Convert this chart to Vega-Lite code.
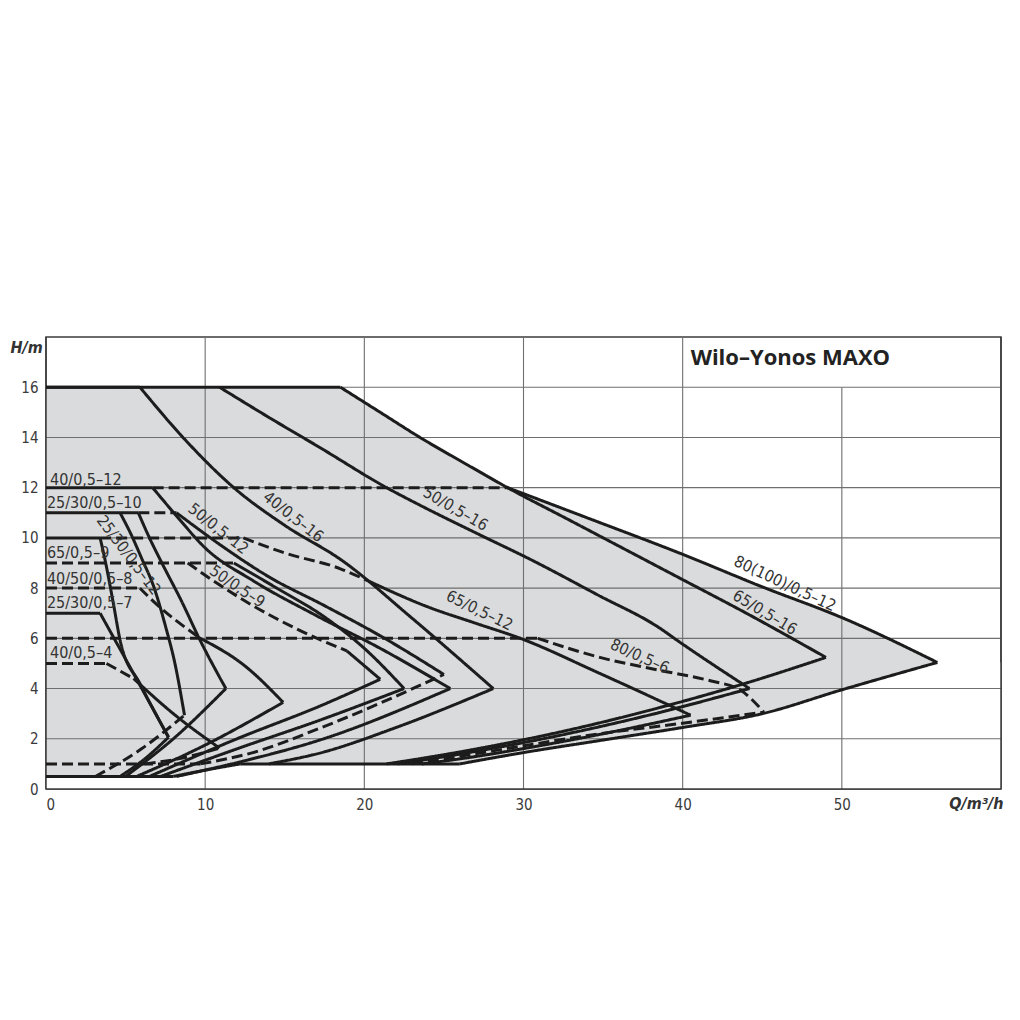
{
  "$schema": "https://vega.github.io/schema/vega-lite/v6.json",
  "width": 955,
  "height": 452,
  "autosize": {"type": "none"},
  "padding": {"left": 46, "top": 337, "right": 19, "bottom": 231},
  "background": "white",
  "config": {
    "view": {"stroke": "#3d3d3d", "strokeWidth": 1.5},
    "axis": {
      "labelFont": "DejaVu Sans Condensed",
      "labelFontSize": 15,
      "labelColor": "#3a3a3a",
      "titleFont": "DejaVu Sans Condensed",
      "titleColor": "#333333",
      "titleFontSize": 16,
      "titleFontWeight": "bold",
      "titleFontStyle": "italic",
      "grid": false,
      "domain": false,
      "ticks": false,
      "tickSize": 0,
      "labelPadding": 8
    },
    "axisX": {
      "tickCount": 6,
      "labelExpr": "datum.value >= 60 ? '' : datum.label",
      "titleX": 957, "titleY": 19,
      "titleAlign": "right", "titleBaseline": "alphabetic"
    },
    "axisY": {
      "tickCount": 9,
      "labelExpr": "datum.value >= 18 ? '' : datum.label",
      "titleAngle": 0,
      "titleX": -36, "titleY": 15,
      "titleAlign": "left", "titleBaseline": "alphabetic"
    }
  },
  "datasets": {
    "envTop": [
      {"x": 0, "y": 16},
      {"x": 18.5, "y": 16},
      {"x": 21, "y": 15},
      {"x": 23.5, "y": 14},
      {"x": 26.5, "y": 12.9},
      {"x": 29, "y": 12},
      {"x": 34, "y": 10.8},
      {"x": 39.9, "y": 9.37},
      {"x": 45, "y": 8.05},
      {"x": 50.1, "y": 6.8},
      {"x": 56, "y": 5.04}
    ],
    "envBot": [
      {"x": 0, "y": 0.5},
      {"x": 8, "y": 0.5},
      {"x": 10, "y": 0.75},
      {"x": 12.2, "y": 1},
      {"x": 26, "y": 1},
      {"x": 30, "y": 1.45},
      {"x": 35, "y": 1.95},
      {"x": 40, "y": 2.45},
      {"x": 45, "y": 3},
      {"x": 50, "y": 3.95},
      {"x": 56, "y": 5.04},
      {"x": 60, "y": 5.04}
    ],
    "vgrid": [
      {"x": 10, "ya": 0, "yb": 18},
      {"x": 20, "ya": 0, "yb": 18},
      {"x": 30, "ya": 0, "yb": 18},
      {"x": 40, "ya": 0, "yb": 18},
      {"x": 50, "ya": 0, "yb": 16}
    ],
    "hgrid": [
      {"y": 2, "xa": 0, "xb": 60},
      {"y": 4, "xa": 0, "xb": 60},
      {"y": 6, "xa": 0, "xb": 60},
      {"y": 8, "xa": 0, "xb": 60},
      {"y": 10, "xa": 0, "xb": 60},
      {"y": 12, "xa": 0, "xb": 60},
      {"y": 14, "xa": 0, "xb": 60},
      {"y": 16, "xa": 0, "xb": 60}
    ],
    "hframe": [
      {"y": 0, "xa": 0, "xb": 60}
    ],
    "vframe": [
      {"x": 0, "ya": 0, "yb": 18},
      {"x": 60, "ya": 0, "yb": 18}
    ],
    "lines": [
      {"s": "s1h", "d": "solid", "x": 0, "y": 16},
      {"s": "s1h", "d": "solid", "x": 5.9, "y": 16},
      {"s": "s1c", "d": "solid", "x": 5.9, "y": 16},
      {"s": "s1c", "d": "solid", "x": 8.9, "y": 13.8},
      {"s": "s1c", "d": "solid", "x": 11.8, "y": 12},
      {"s": "s1c", "d": "solid", "x": 15, "y": 10.5},
      {"s": "s1c", "d": "solid", "x": 18.6, "y": 9.1},
      {"s": "s1c", "d": "solid", "x": 23, "y": 6.8},
      {"s": "s1c", "d": "solid", "x": 28.1, "y": 4},
      {"s": "s1r", "d": "solid", "x": 14, "y": 1},
      {"s": "s1r", "d": "solid", "x": 17.2, "y": 1.43},
      {"s": "s1r", "d": "solid", "x": 22, "y": 2.45},
      {"s": "s1r", "d": "solid", "x": 28.1, "y": 4},

      {"s": "s2c", "d": "solid", "x": 10.9, "y": 16},
      {"s": "s2c", "d": "solid", "x": 14, "y": 14.8},
      {"s": "s2c", "d": "solid", "x": 17.2, "y": 13.6},
      {"s": "s2c", "d": "solid", "x": 21.4, "y": 12},
      {"s": "s2c", "d": "solid", "x": 23.5, "y": 11.3},
      {"s": "s2c", "d": "solid", "x": 27, "y": 10.2},
      {"s": "s2c", "d": "solid", "x": 30.6, "y": 9.09},
      {"s": "s2c", "d": "solid", "x": 34.6, "y": 7.75},
      {"s": "s2c", "d": "solid", "x": 38.6, "y": 6.39},
      {"s": "s2c", "d": "solid", "x": 39.7, "y": 5.9},
      {"s": "s2c", "d": "solid", "x": 44.2, "y": 4},
      {"s": "s2r", "d": "solid", "x": 22.1, "y": 1},
      {"s": "s2r", "d": "solid", "x": 26, "y": 1.39},
      {"s": "s2r", "d": "solid", "x": 32, "y": 2.1},
      {"s": "s2r", "d": "solid", "x": 38, "y": 2.96},
      {"s": "s2r", "d": "solid", "x": 44.2, "y": 4},

      {"s": "s3h", "d": "solid", "x": 0, "y": 16},
      {"s": "s3h", "d": "solid", "x": 18.5, "y": 16},
      {"s": "s3c", "d": "solid", "x": 18.5, "y": 16},
      {"s": "s3c", "d": "solid", "x": 21, "y": 15},
      {"s": "s3c", "d": "solid", "x": 23.5, "y": 14},
      {"s": "s3c", "d": "solid", "x": 26.5, "y": 12.9},
      {"s": "s3c", "d": "solid", "x": 29, "y": 12},
      {"s": "s3c", "d": "solid", "x": 33, "y": 10.67},
      {"s": "s3c", "d": "solid", "x": 36, "y": 9.67},
      {"s": "s3c", "d": "solid", "x": 39.9, "y": 8.37},
      {"s": "s3c", "d": "solid", "x": 44, "y": 7},
      {"s": "s3c", "d": "solid", "x": 49, "y": 5.24},
      {"s": "s3r", "d": "solid", "x": 21.4, "y": 1},
      {"s": "s3r", "d": "solid", "x": 24, "y": 1.26},
      {"s": "s3r", "d": "solid", "x": 28, "y": 1.71},
      {"s": "s3r", "d": "solid", "x": 33, "y": 2.37},
      {"s": "s3r", "d": "solid", "x": 38.6, "y": 3.25},
      {"s": "s3r", "d": "solid", "x": 44, "y": 4.22},
      {"s": "s3r", "d": "solid", "x": 49, "y": 5.24},

      {"s": "s4", "d": "dash", "x": 6.7, "y": 12},
      {"s": "s4", "d": "dash", "x": 29, "y": 12},

      {"s": "s5c", "d": "solid", "x": 29, "y": 12},
      {"s": "s5c", "d": "solid", "x": 34, "y": 10.8},
      {"s": "s5c", "d": "solid", "x": 39.9, "y": 9.37},
      {"s": "s5c", "d": "solid", "x": 45, "y": 8.05},
      {"s": "s5c", "d": "solid", "x": 50.1, "y": 6.8},
      {"s": "s5c", "d": "solid", "x": 56, "y": 5.04},
      {"s": "s5r", "d": "solid", "x": 26, "y": 1},
      {"s": "s5r", "d": "solid", "x": 30, "y": 1.45},
      {"s": "s5r", "d": "solid", "x": 35, "y": 1.95},
      {"s": "s5r", "d": "solid", "x": 40, "y": 2.45},
      {"s": "s5r", "d": "solid", "x": 45, "y": 3},
      {"s": "s5r", "d": "solid", "x": 50, "y": 3.95},
      {"s": "s5r", "d": "solid", "x": 56, "y": 5.04},

      {"s": "s6h", "d": "dash", "x": 0, "y": 6},
      {"s": "s6h", "d": "dash", "x": 30.9, "y": 6},
      {"s": "s6c", "d": "dash", "x": 30.9, "y": 6},
      {"s": "s6c", "d": "dash", "x": 34.8, "y": 5.24},
      {"s": "s6c", "d": "dash", "x": 38.6, "y": 4.72},
      {"s": "s6c", "d": "dash", "x": 41.8, "y": 4.3},
      {"s": "s6c", "d": "dash", "x": 43.6, "y": 3.95},
      {"s": "s6c", "d": "dash", "x": 45.1, "y": 3.06},
      {"s": "s6r", "d": "dash", "x": 23, "y": 1},
      {"s": "s6r", "d": "dash", "x": 26, "y": 1.3},
      {"s": "s6r", "d": "dash", "x": 30, "y": 1.72},
      {"s": "s6r", "d": "dash", "x": 34.8, "y": 2.2},
      {"s": "s6r", "d": "dash", "x": 40, "y": 2.62},
      {"s": "s6r", "d": "dash", "x": 45.1, "y": 3.06},

      {"s": "s8h", "d": "dash", "x": 3.4, "y": 10},
      {"s": "s8h", "d": "dash", "x": 12.4, "y": 10},
      {"s": "s8c", "d": "dash", "x": 12.4, "y": 10},
      {"s": "s8c", "d": "dash", "x": 15, "y": 9.4},
      {"s": "s8c", "d": "dash", "x": 18.5, "y": 8.77},
      {"s": "s8c", "d": "dash", "x": 20.2, "y": 8.3},

      {"s": "s9c", "d": "solid", "x": 20.2, "y": 8.3},
      {"s": "s9c", "d": "solid", "x": 24, "y": 7.25},
      {"s": "s9c", "d": "solid", "x": 27, "y": 6.6},
      {"s": "s9c", "d": "solid", "x": 29.8, "y": 6},
      {"s": "s9c", "d": "solid", "x": 34.8, "y": 4.6},
      {"s": "s9c", "d": "solid", "x": 40.5, "y": 2.94},
      {"s": "s9r", "d": "solid", "x": 23.6, "y": 1},
      {"s": "s9r", "d": "solid", "x": 26, "y": 1.2},
      {"s": "s9r", "d": "solid", "x": 30, "y": 1.61},
      {"s": "s9r", "d": "solid", "x": 35, "y": 2.2},
      {"s": "s9r", "d": "solid", "x": 40.5, "y": 2.94},

      {"s": "s10h", "d": "solid", "x": 0, "y": 10},
      {"s": "s10h", "d": "solid", "x": 3.4, "y": 10},
      {"s": "s10c", "d": "solid", "x": 3.4, "y": 10},
      {"s": "s10c", "d": "solid", "x": 3.75, "y": 9},
      {"s": "s10c", "d": "solid", "x": 4.2, "y": 7.5},
      {"s": "s10c", "d": "solid", "x": 4.7, "y": 5.8},
      {"s": "s10c", "d": "solid", "x": 5.9, "y": 4.2},
      {"s": "s10c", "d": "solid", "x": 7.7, "y": 2.06},

      {"s": "s11h", "d": "solid", "x": 0, "y": 12},
      {"s": "s11h", "d": "solid", "x": 6.7, "y": 12},
      {"s": "s11c", "d": "solid", "x": 6.7, "y": 12},
      {"s": "s11c", "d": "solid", "x": 8.3, "y": 10.8},
      {"s": "s11c", "d": "solid", "x": 10, "y": 9.6},
      {"s": "s11c", "d": "solid", "x": 13, "y": 8.3},
      {"s": "s11c", "d": "solid", "x": 17, "y": 6.9},
      {"s": "s11c", "d": "solid", "x": 21, "y": 5.6},
      {"s": "s11c", "d": "solid", "x": 25.4, "y": 4},
      {"s": "s11r", "d": "solid", "x": 8.2, "y": 0.5},
      {"s": "s11r", "d": "solid", "x": 12, "y": 1.05},
      {"s": "s11r", "d": "solid", "x": 17.2, "y": 1.95},
      {"s": "s11r", "d": "solid", "x": 25.4, "y": 4},

      {"s": "s12", "d": "dash", "x": 5.8, "y": 11},
      {"s": "s12", "d": "dash", "x": 8.2, "y": 11},

      {"s": "s13c", "d": "solid", "x": 8.2, "y": 11},
      {"s": "s13c", "d": "solid", "x": 11, "y": 9.7},
      {"s": "s13c", "d": "solid", "x": 14, "y": 8.45},
      {"s": "s13c", "d": "solid", "x": 17.5, "y": 7.3},
      {"s": "s13c", "d": "solid", "x": 21, "y": 6.1},
      {"s": "s13c", "d": "solid", "x": 25, "y": 4.56},
      {"s": "s14r", "d": "dash", "x": 9.7, "y": 1},
      {"s": "s14r", "d": "dash", "x": 13, "y": 1.45},
      {"s": "s14r", "d": "dash", "x": 17.2, "y": 2.42},
      {"s": "s14r", "d": "dash", "x": 25, "y": 4.56},

      {"s": "s15", "d": "dash", "x": 0, "y": 9},
      {"s": "s15", "d": "dash", "x": 11.8, "y": 9},

      {"s": "s16c", "d": "dash", "x": 8.9, "y": 9},
      {"s": "s16c", "d": "dash", "x": 10.5, "y": 8.3},
      {"s": "s16c", "d": "dash", "x": 13, "y": 7.3},
      {"s": "s16c", "d": "dash", "x": 16, "y": 6.3},
      {"s": "s16c", "d": "dash", "x": 18.9, "y": 5.5},
      {"s": "s17c", "d": "solid", "x": 18.9, "y": 5.5},
      {"s": "s17c", "d": "solid", "x": 21, "y": 4.37},
      {"s": "s17r", "d": "solid", "x": 6.5, "y": 0.5},
      {"s": "s17r", "d": "solid", "x": 12, "y": 2},
      {"s": "s17r", "d": "solid", "x": 17.2, "y": 3.3},
      {"s": "s17r", "d": "solid", "x": 21, "y": 4.37},

      {"s": "s18c", "d": "solid", "x": 11.8, "y": 9},
      {"s": "s18c", "d": "solid", "x": 14.5, "y": 8},
      {"s": "s18c", "d": "solid", "x": 17.5, "y": 6.85},
      {"s": "s18c", "d": "solid", "x": 20, "y": 5.6},
      {"s": "s18c", "d": "solid", "x": 22.5, "y": 4},
      {"s": "s18r", "d": "solid", "x": 7.2, "y": 0.5},
      {"s": "s18r", "d": "solid", "x": 12, "y": 1.6},
      {"s": "s18r", "d": "solid", "x": 17.2, "y": 2.74},
      {"s": "s18r", "d": "solid", "x": 22.5, "y": 4},

      {"s": "s19h", "d": "solid", "x": 0, "y": 7},
      {"s": "s19h", "d": "solid", "x": 3.4, "y": 7},
      {"s": "s19c", "d": "solid", "x": 3.4, "y": 7},
      {"s": "s19c", "d": "solid", "x": 5.5, "y": 4.6},
      {"s": "s19c", "d": "solid", "x": 7.7, "y": 2.06},
      {"s": "s19r", "d": "solid", "x": 4.65, "y": 0.5},
      {"s": "s19r", "d": "solid", "x": 6.2, "y": 1.2},
      {"s": "s19r", "d": "solid", "x": 7.7, "y": 2.06},

      {"s": "s20c", "d": "solid", "x": 4.65, "y": 11},
      {"s": "s20c", "d": "solid", "x": 5.3, "y": 10.2},
      {"s": "s20c", "d": "solid", "x": 6, "y": 9.2},
      {"s": "s20c", "d": "solid", "x": 6.8, "y": 8},
      {"s": "s20c", "d": "solid", "x": 7.5, "y": 6.5},
      {"s": "s20c", "d": "solid", "x": 8.1, "y": 5},
      {"s": "s20c", "d": "solid", "x": 8.7, "y": 2.94},
      {"s": "s21r", "d": "dash", "x": 3.1, "y": 0.5},
      {"s": "s21r", "d": "dash", "x": 6, "y": 1.6},
      {"s": "s21r", "d": "dash", "x": 8.7, "y": 2.94},

      {"s": "s22h", "d": "solid", "x": 0, "y": 11},
      {"s": "s22h", "d": "solid", "x": 5.8, "y": 11},
      {"s": "s22c", "d": "solid", "x": 5.8, "y": 11},
      {"s": "s22c", "d": "solid", "x": 6.5, "y": 10},
      {"s": "s22c", "d": "solid", "x": 7.2, "y": 9.1},
      {"s": "s22c", "d": "solid", "x": 8.5, "y": 7.5},
      {"s": "s22c", "d": "solid", "x": 9.7, "y": 5.9},
      {"s": "s22c", "d": "solid", "x": 11.3, "y": 4},
      {"s": "s22r", "d": "solid", "x": 5, "y": 0.5},
      {"s": "s22r", "d": "solid", "x": 8, "y": 2},
      {"s": "s22r", "d": "solid", "x": 11.3, "y": 4},

      {"s": "s23h", "d": "dash", "x": 0, "y": 8},
      {"s": "s23h", "d": "dash", "x": 5.9, "y": 8},
      {"s": "s23c", "d": "dash", "x": 5.9, "y": 8},
      {"s": "s23c", "d": "dash", "x": 6.7, "y": 7.5},
      {"s": "s23c", "d": "dash", "x": 9.7, "y": 6},
      {"s": "s24c", "d": "solid", "x": 9.7, "y": 6},
      {"s": "s24c", "d": "solid", "x": 12.5, "y": 4.9},
      {"s": "s24c", "d": "solid", "x": 14.9, "y": 3.45},
      {"s": "s24r", "d": "solid", "x": 5.7, "y": 0.5},
      {"s": "s24r", "d": "solid", "x": 10, "y": 1.75},
      {"s": "s24r", "d": "solid", "x": 14.9, "y": 3.45},

      {"s": "s25h", "d": "dash", "x": 0, "y": 5},
      {"s": "s25h", "d": "dash", "x": 3.8, "y": 5},
      {"s": "s25c", "d": "dash", "x": 3.8, "y": 5},
      {"s": "s25c", "d": "dash", "x": 5.5, "y": 4.4},
      {"s": "s26c", "d": "solid", "x": 5.5, "y": 4.4},
      {"s": "s26c", "d": "solid", "x": 8, "y": 3},
      {"s": "s26c", "d": "solid", "x": 10.9, "y": 1.63},
      {"s": "s27r", "d": "dash", "x": 6.2, "y": 1},
      {"s": "s27r", "d": "dash", "x": 8.3, "y": 1.2},
      {"s": "s27r", "d": "dash", "x": 10.9, "y": 1.63},

      {"s": "s28a", "d": "solid", "x": 0, "y": 0.5},
      {"s": "s28a", "d": "solid", "x": 8, "y": 0.5},
      {"s": "s28b", "d": "solid", "x": 8, "y": 0.5},
      {"s": "s28b", "d": "solid", "x": 10, "y": 0.75},
      {"s": "s28b", "d": "solid", "x": 12.2, "y": 1},
      {"s": "s28c", "d": "solid", "x": 12.2, "y": 1},
      {"s": "s28c", "d": "solid", "x": 26, "y": 1},

      {"s": "s29", "d": "dash", "x": 0, "y": 1},
      {"s": "s29", "d": "dash", "x": 9.7, "y": 1}
    ],
    "hlabels": [
      {"t": "40/0,5–12", "x": 0.25, "y": 12.1},
      {"t": "25/30/0,5–10", "x": 0.06, "y": 11.2},
      {"t": "65/0,5–9", "x": 0.06, "y": 9.2},
      {"t": "40/50/0,5–8", "x": 0.06, "y": 8.15},
      {"t": "25/30/0,5–7", "x": 0.06, "y": 7.2},
      {"t": "40/0,5–4", "x": 0.25, "y": 5.2}
    ],
    "rlabels": [
      {"t": "25/30/0,5–12", "x": 5.19, "y": 9.31, "a": 53},
      {"t": "50/0,5–12", "x": 10.82, "y": 10.36, "a": 38},
      {"t": "50/0,5–9", "x": 12.01, "y": 8.06, "a": 34},
      {"t": "40/0,5–16", "x": 15.53, "y": 10.83, "a": 38},
      {"t": "50/0,5–16", "x": 25.72, "y": 11.15, "a": 30},
      {"t": "65/0,5–12", "x": 27.23, "y": 7.1, "a": 26},
      {"t": "80/0,5–6", "x": 37.3, "y": 5.28, "a": 24},
      {"t": "80(100)/0,5–12", "x": 46.42, "y": 8.17, "a": 25},
      {"t": "65/0,5–16", "x": 45.16, "y": 7.02, "a": 31}
    ],
    "heading": [
      {"t": "Wilo–Yonos MAXO", "x": 40.5, "y": 16.9}
    ]
  },
  "layer": [
    {
      "data": {"name": "envTop"},
      "mark": {"type": "area", "color": "#dadbdc", "interpolate": "linear"},
      "encoding": {
        "x": {
          "field": "x", "type": "quantitative", "title": "Q/m³/h",
          "scale": {"domain": [0, 60], "nice": false}
        },
        "y": {
          "field": "y", "type": "quantitative", "title": "H/m",
          "scale": {"domain": [0, 18], "nice": false}
        },
        "y2": {"datum": 0}
      }
    },
    {
      "data": {"name": "envBot"},
      "mark": {"type": "area", "color": "#ffffff", "interpolate": "linear"},
      "encoding": {
        "x": {"field": "x", "type": "quantitative", "title": "Q/m³/h"},
        "y": {"field": "y", "type": "quantitative", "title": "H/m"},
        "y2": {"datum": 0}
      }
    },
    {
      "data": {"name": "vgrid"},
      "mark": {"type": "rule", "color": "#6f6f6f", "strokeWidth": 1.1},
      "encoding": {
        "x": {"field": "x", "type": "quantitative", "title": "Q/m³/h"},
        "y": {"field": "ya", "type": "quantitative", "title": "H/m"},
        "y2": {"field": "yb"}
      }
    },
    {
      "data": {"name": "hgrid"},
      "mark": {"type": "rule", "color": "#6f6f6f", "strokeWidth": 1.1},
      "encoding": {
        "y": {"field": "y", "type": "quantitative", "title": "H/m"},
        "x": {"field": "xa", "type": "quantitative", "title": "Q/m³/h"},
        "x2": {"field": "xb"}
      }
    },
    {
      "data": {"name": "hframe"},
      "mark": {"type": "rule", "color": "#3d3d3d", "strokeWidth": 1.5},
      "encoding": {
        "y": {"field": "y", "type": "quantitative", "title": "H/m"},
        "x": {"field": "xa", "type": "quantitative", "title": "Q/m³/h"},
        "x2": {"field": "xb"}
      }
    },
    {
      "data": {"name": "vframe"},
      "mark": {"type": "rule", "color": "#3d3d3d", "strokeWidth": 1.5},
      "encoding": {
        "x": {"field": "x", "type": "quantitative", "title": "Q/m³/h"},
        "y": {"field": "ya", "type": "quantitative", "title": "H/m"},
        "y2": {"field": "yb"}
      }
    },
    {
      "data": {"name": "lines"},
      "mark": {"type": "line", "color": "#1c1c1c", "strokeWidth": 3, "interpolate": "monotone", "strokeJoin": "miter", "strokeCap": "butt"},
      "encoding": {
        "x": {"field": "x", "type": "quantitative", "title": "Q/m³/h"},
        "y": {"field": "y", "type": "quantitative", "title": "H/m"},
        "detail": {"field": "s", "type": "nominal"},
        "strokeDash": {
          "field": "d", "type": "nominal",
          "scale": {"domain": ["solid", "dash"], "range": [[1, 0], [11, 5]]},
          "legend": null
        }
      }
    },
    {
      "data": {"name": "hlabels"},
      "mark": {"type": "text", "align": "left", "baseline": "alphabetic", "font": "Liberation Sans Narrow, DejaVu Sans Condensed", "fontSize": 16, "color": "#333333"},
      "encoding": {
        "x": {"field": "x", "type": "quantitative", "title": "Q/m³/h"},
        "y": {"field": "y", "type": "quantitative", "title": "H/m"},
        "text": {"field": "t"}
      }
    },
    {
      "data": {"name": "rlabels"},
      "mark": {"type": "text", "align": "center", "baseline": "middle", "font": "Liberation Sans Narrow, DejaVu Sans Condensed", "fontSize": 16, "color": "#333333"},
      "encoding": {
        "x": {"field": "x", "type": "quantitative", "title": "Q/m³/h"},
        "y": {"field": "y", "type": "quantitative", "title": "H/m"},
        "text": {"field": "t"},
        "angle": {"field": "a", "type": "quantitative", "scale": null}
      }
    },
    {
      "data": {"name": "heading"},
      "mark": {"type": "text", "align": "left", "baseline": "alphabetic", "font": "Open Sans", "fontSize": 22, "fontWeight": "bold", "color": "#222222"},
      "encoding": {
        "x": {"field": "x", "type": "quantitative", "title": "Q/m³/h"},
        "y": {"field": "y", "type": "quantitative", "title": "H/m"},
        "text": {"field": "t"}
      }
    }
  ]
}
